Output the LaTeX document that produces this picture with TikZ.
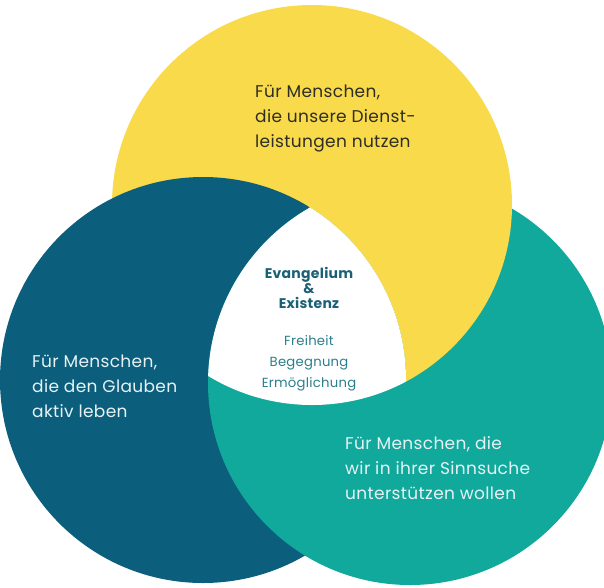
\documentclass[tikz,border=0pt]{standalone}
\usepackage{fontspec}
\setmainfont{Poppins}
\definecolor{cyellow}{HTML}{F9DA4A}
\definecolor{cblue}{HTML}{0B5E7C}
\definecolor{cteal}{HTML}{10A99C}
\definecolor{ctxtdark}{HTML}{2E2E26}
\definecolor{ctxtwhite}{HTML}{E6F2F4}
\definecolor{ccenterbold}{HTML}{1B6175}
\definecolor{ccenter}{HTML}{2A7F8C}
\tikzset{
  lbl/.style={align=left, anchor=base west, inner sep=0pt, font=\fontsize{17}{25}\selectfont\addfontfeatures{LetterSpace=2}},
  ctr/.style={align=center, anchor=base, inner sep=0pt},
}
\begin{document}
\begin{tikzpicture}[x=1pt,y=-1pt]
\useasboundingbox (0,0) rectangle (604,587);
\def\ycirc{(312,205) circle (200)}
\def\bcirc{(203,380) circle (203)}
\def\tcirc{(410,383) circle (202)}
\def\tcircbig{(410,383) circle (203.5)}
\begin{scope}
\clip (0,0) rectangle (604,587);
\fill[cyellow] \ycirc;
\fill[cblue] \bcirc;
\fill[cteal] \tcirc;
\begin{scope}
  \clip \ycirc;
  \clip \tcircbig;
  \fill[cyellow, even odd rule] (-10,-10) rectangle (620,600) \bcirc;
\end{scope}
\begin{scope}
  \clip \ycirc;
  \clip \tcirc;
  \clip \bcirc;
  \fill[white] (0,0) rectangle (604,587);
\end{scope}
\end{scope}
% base anchor of a multi-line node = baseline of its last line
\node[lbl, text=ctxtdark] (ytext) at (255,147) {Für Menschen,\\die unsere Dienst-\\leistungen nutzen};
\node[lbl, text=ctxtwhite] (btext) at (32,417) {Für Menschen,\\die den Glauben\\aktiv leben};
\node[lbl, text=ctxtwhite] (ttext) at (345,499) {Für Menschen, die\\wir in ihrer Sinnsuche\\unterstützen wollen};
\node[ctr, text=ccenterbold, font=\bfseries\fontsize{14}{15}\selectfont\addfontfeatures{LetterSpace=2}] (ctop) at (309,308) {Evangelium\\\&\\Existenz};
\node[ctr, text=ccenter, font=\fontsize{13.2}{21}\selectfont\addfontfeatures{LetterSpace=2}] (cbot) at (309,387) {Freiheit\\Begegnung\\Ermöglichung};
\end{tikzpicture}
\end{document}
